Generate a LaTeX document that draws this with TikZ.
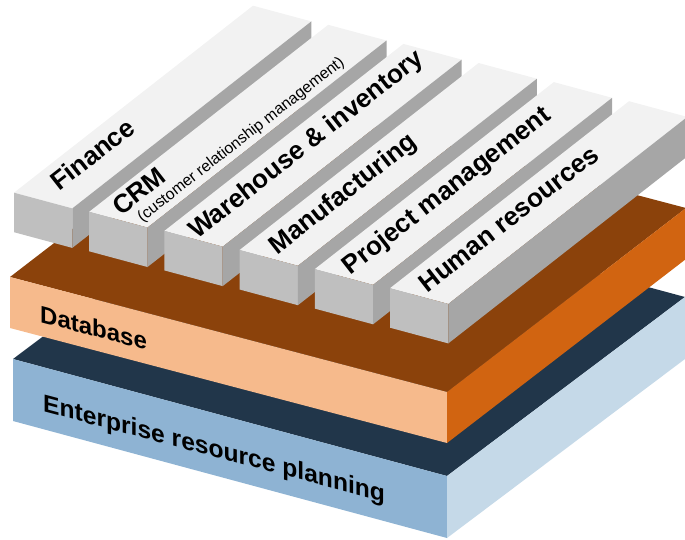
\documentclass[tikz,border=0pt]{standalone}
\usepackage{fontspec}
\setmainfont{Liberation Sans}
\usetikzlibrary{calc}

\definecolor{barTop}{HTML}{F2F2F2}
\definecolor{barFront}{HTML}{BFBFBF}
\definecolor{barSide}{HTML}{A6A6A6}
\definecolor{dbTop}{HTML}{8B420B}
\definecolor{dbFront}{HTML}{F6BA8C}
\definecolor{dbSide}{HTML}{D16411}
\definecolor{erpTop}{HTML}{21364A}
\definecolor{erpFront}{HTML}{8EB3D3}
\definecolor{erpSide}{HTML}{C5D9E8}

\tikzset{
  barlabel/.style={rotate=38, inner sep=0pt, anchor=base west, text=black,
    font=\bfseries\fontsize{26}{29}\selectfont},
  barsublabel/.style={rotate=38, inner sep=0pt, anchor=base west, text=black,
    font=\fontsize{15.8}{18}\selectfont},
  slablabel/.style={yslant=-0.265, inner sep=0pt, anchor=base west, text=black},
}

\begin{document}
\begin{tikzpicture}[x=1pt,y=1pt]
\useasboundingbox (0,0) rectangle (685,-539);

% ---- bottom slab: enterprise resource planning ----
\coordinate (e1) at (13,-359);
\coordinate (e2) at (447,-476);
\coordinate (e3) at (685,-297);
\coordinate (e4) at (251,-180);
\fill[erpTop] (e1) -- (e2) -- (e3) -- (e4) -- cycle;
\fill[erpFront] (e1) -- (e2) -- ++(0,-62) -- ($(e1)+(0,-62)$) -- cycle;
\fill[erpSide] (e2) -- (e3) -- ++(0,-62) -- ($(e2)+(0,-62)$) -- cycle;

% ---- middle slab: database ----
\coordinate (d1) at (10,-277);
\coordinate (d2) at (447,-392);
\coordinate (d3) at (686,-208);
\coordinate (d4) at (249,-93);
\fill[dbTop] (d1) -- (d2) -- (d3) -- (d4) -- cycle;
\fill[dbFront] (d1) -- (d2) -- ++(0,-51) -- ($(d1)+(0,-51)$) -- cycle;
\fill[dbSide] (d2) -- (d3) -- ++(0,-51) -- ($(d2)+(0,-51)$) -- cycle;

% ---- module bars standing on the database slab ----
\foreach \i in {0,...,5}{
  \coordinate (p\i) at ({14+75.2*\i},{-(192.7+19.1*\i)});
  \fill[barTop] (p\i) -- ++(58.3,-15.7) -- ++(239,187) -- ++(-58.3,15.7) -- cycle;
  \fill[barFront] (p\i) -- ++(58.3,-15.7) -- ++(0,-39.5) -- ++(-58.3,15.7) -- cycle;
  \fill[barSide] ($(p\i)+(58.3,-15.7)$) -- ++(239,187) -- ++(0,-39.5) -- ++(-239,-187) -- cycle;
  % middle of the front edge of the bar's top face
  \coordinate (m\i) at ($(p\i)+(29.15,-7.85)$);
}

% ---- labels on the bars (along the bar, baseline slightly right of centre) ----
\node[barlabel] (finance) at ($(m0)+(38:18)+(308:3)$) {Finance};
\node[barlabel] (crm) at ($(m1)+(38:4)+(308:-1)$) {CRM};
\node[barsublabel] (crmsub) at ($(m1)+(38:17)+(308:17)$) {(customer relationship management)};
\node[barlabel] (warehouse) at ($(m2)+(38:2)+(308:3)$) {Warehouse \& inventory};
\node[barlabel] (manufacturing) at ($(m3)+(38:8)+(308:3)$) {Manufacturing};
\node[barlabel] (project) at ($(m4)+(38:6)+(308:3)$) {Project management};
\node[barlabel] (human) at ($(m5)+(38:8)+(308:3)$) {Human resources};

% ---- labels on the slab fronts ----
\node[slablabel, font=\bfseries\fontsize{24}{27}\selectfont] (database) at (40,-322) {Database};
\node[slablabel, font=\bfseries\fontsize{24.6}{28}\selectfont] (erp) at (43,-411.5) {Enterprise resource planning};
\end{tikzpicture}
\end{document}
